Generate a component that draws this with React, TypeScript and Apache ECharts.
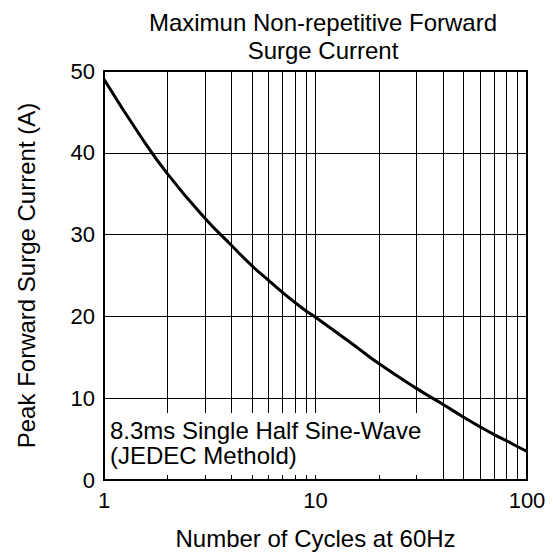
import React, { useEffect, useRef } from "react";
import * as echarts from "echarts";

const titleText = "Maximun Non-repetitive Forward\nSurge Current";
const xAxisName = "Number of Cycles at 60Hz";
const yAxisName = "Peak Forward Surge Current (A)";
const noteText = "8.3ms Single Half Sine-Wave\n(JEDEC Methold)";

const xCycles = [1, 1.5, 2, 3, 4, 5, 6, 7, 8, 9, 10, 15, 20, 30, 40, 50, 60, 70, 80, 90, 100];
const yCurrent = [49, 41.9, 37.4, 32.0, 28.7, 26.2, 24.4, 22.9, 21.7, 20.7, 19.9, 16.6, 14.2, 11.2, 9.25, 7.7, 6.5, 5.55, 4.8, 4.1, 3.5];
const minorGridX = [2, 3, 4, 5, 6, 7, 8, 9, 20, 30, 40, 50, 60, 70, 80, 90];

const FONT = "'Liberation Sans', Arial, sans-serif";

export default function App() {
  const ref = useRef<HTMLDivElement>(null);
  useEffect(() => {
    if (!ref.current) return;
    const chart = echarts.init(ref.current, null, { renderer: "svg" });
    const data = xCycles.map((x, i) => [x, yCurrent[i]]);
    chart.setOption({
      animation: false,
      backgroundColor: "#fff",
      title: {
        text: titleText,
        left: 318,
        top: 3,
        textAlign: "center",
        textStyle: { fontFamily: FONT, fontSize: 24, fontWeight: "normal", lineHeight: 28, color: "#000" },
      },
      grid: { left: 104, right: 26, top: 71, bottom: 78, show: true, borderColor: "#000", borderWidth: 2, backgroundColor: "transparent" },
      xAxis: {
        type: "log",
        logBase: 10,
        min: 1,
        max: 100,
        name: xAxisName,
        nameLocation: "middle",
        nameGap: 46,
        nameTextStyle: { fontFamily: FONT, fontSize: 24, color: "#000" },
        axisLine: { show: true, lineStyle: { color: "#000", width: 2 } },
        axisTick: { show: false },
        axisLabel: { fontFamily: FONT, fontSize: 22, color: "#000", margin: 9 },
        splitLine: { show: true, lineStyle: { color: "#000", width: 1 } },
        minorTick: { show: false },
        minorSplitLine: { show: false },
      },
      yAxis: {
        type: "value",
        min: 0,
        max: 50,
        interval: 10,
        name: yAxisName,
        nameLocation: "middle",
        nameGap: 66,
        nameTextStyle: { fontFamily: FONT, fontSize: 24, color: "#000" },
        axisLine: { show: true, lineStyle: { color: "#000", width: 2 } },
        axisTick: { show: false },
        axisLabel: { fontFamily: FONT, fontSize: 22, color: "#000", margin: 9 },
        splitLine: { show: true, lineStyle: { color: "#000", width: 1 } },
      },
      series: [
        {
          type: "line",
          data,
          smooth: 0.5,
          symbol: "none",
          lineStyle: { color: "#000", width: 3 },
          z: 5,
          markLine: {
            silent: true,
            symbol: ["none", "none"],
            label: { show: false },
            lineStyle: { color: "#000", width: 1, type: "solid" },
            data: minorGridX.map((v) => ({ xAxis: v })),
          },
        },
      ],
      graphic: [
        {
          type: "rect",
          z: 100,
          shape: { x: 106, y: 413, width: 320, height: 62 },
          style: { fill: "#fff" },
        },
        {
          type: "text",
          z: 101,
          x: 110,
          y: 418,
          style: { text: noteText, fontSize: 24, fontFamily: FONT, lineHeight: 25, fill: "#000", verticalAlign: "top" },
        },
      ],
    });
    return () => chart.dispose();
  }, []);
  return <div ref={ref} style={{ position: "absolute", left: 0, top: 0, width: 553, height: 558 }} />;
}
